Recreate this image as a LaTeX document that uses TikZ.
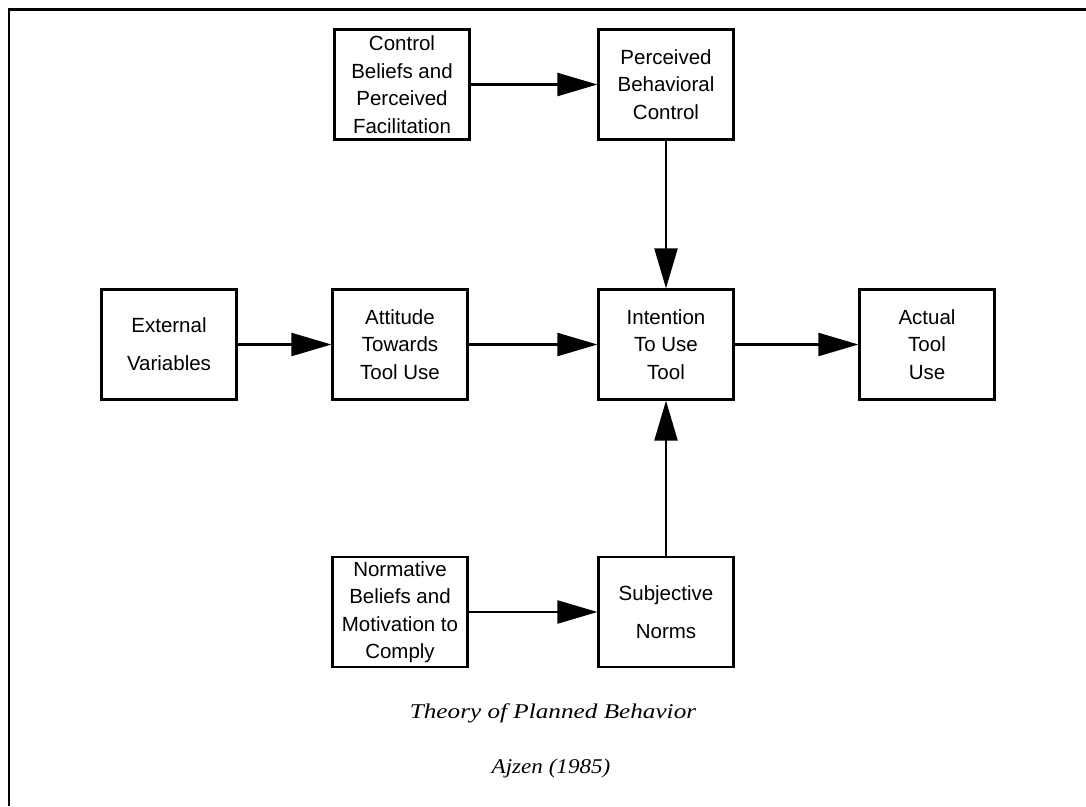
\documentclass[tikz,border=0pt]{standalone}
\usepackage{fontspec}
\usepackage{graphicx}
\setmainfont{Liberation Sans}
\newfontfamily\capfont{Liberation Serif}
\usetikzlibrary{arrows.meta}

\tikzset{
  box/.style={draw, line width=2.2pt, minimum width=135pt, minimum height=110pt,
    inner sep=0pt, align=center, font=\fontsize{20.5}{27.5}\selectfont},
  loose/.style={font=\fontsize{20.5}{38}\selectfont},
  link/.style={line width=2.2pt, -{Triangle[length=40pt,width=23pt]}},
  caption/.style={font=\capfont\itshape\fontsize{21}{25}\selectfont},
  frame/.style={line width=2.8pt}
}

\begin{document}
\begin{tikzpicture}[x=1pt,y=-1pt]
  \useasboundingbox (0,0) rectangle (1086,806);

  % open frame: left and top edges
  \draw[frame] (9,806) -- (9,9.5) -- (1086,9.5);

  % boxes
  \node[box] (ctrl) at (402,84.5)  {Control\\Beliefs and\\Perceived\\Facilitation};
  \node[box] (pbc)  at (666,84.5)  {Perceived\\Behavioral\\Control};
  \node[box] (ext)  at (169,344.5) [loose] {External\\Variables};
  \node[box] (att)  at (400,344.5) {Attitude\\Towards\\Tool Use};
  \node[box] (int)  at (666,344.5) {Intention\\To Use\\Tool};
  \node[box] (act)  at (927,344.5) {Actual\\Tool\\Use};
  \node[box] (norm) at (400,612) {Normative\\Beliefs and\\Motivation to\\Comply};
  \node[box] (subj) at (666,612) [loose] {Subjective\\Norms};

  % connectors
  \draw[link] (ctrl.east) -- (pbc.west);
  \draw[link] (pbc.south) -- (int.north);
  \draw[link] (ext.east) -- (att.west);
  \draw[link] (att.east) -- (int.west);
  \draw[link] (int.east) -- (act.west);
  \draw[link] (norm.east) -- (subj.west);
  \draw[link] (subj.north) -- (int.south);

  % caption
  \node[caption] (title) at (553,713) {\scalebox{1.2}[1]{Theory of Planned Behavior}};
  \node[caption] (cite)  at (551,768) {\scalebox{1.1}[1]{Ajzen (1985)}};
\end{tikzpicture}
\end{document}
